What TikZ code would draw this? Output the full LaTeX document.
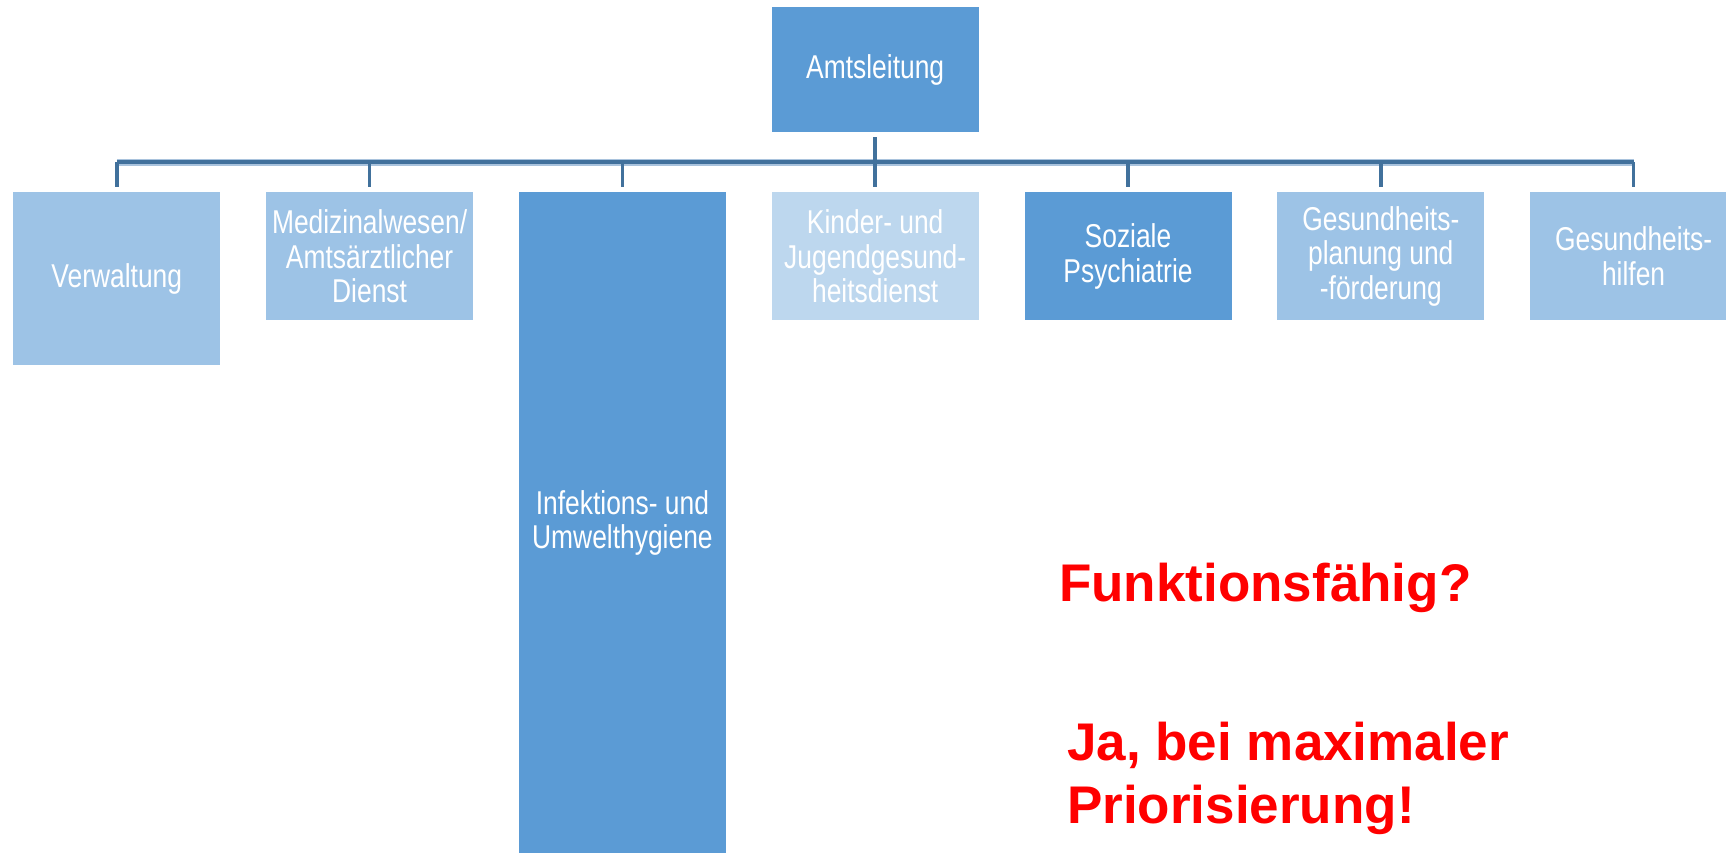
\documentclass[tikz,border=0pt]{standalone}
\usepackage{fontspec}
\setmainfont{Liberation Sans}
\newfontfamily\boxfont[FakeStretch=0.8]{Liberation Sans}
\usetikzlibrary{calc}
\definecolor{midblue}{HTML}{5B9BD5}
\definecolor{lightblue}{HTML}{9DC3E6}
\definecolor{paleblue}{HTML}{BDD7EE}
\definecolor{linecol}{HTML}{41719C}
\definecolor{halocol}{HTML}{A9C3DD}
\definecolor{alertred}{HTML}{FF0000}
\begin{document}
\begin{tikzpicture}[x=1pt,y=-1pt,
  unit/.style={rectangle, inner sep=0pt, minimum width=207pt, fill=#1,
    text=white, align=center, font=\boxfont\fontsize{33}{34.3}\selectfont},
  drop/.style={draw=linecol, line width=3.6pt},
  bushalo/.style={draw=halocol, line width=7pt},
  busline/.style={draw=linecol, line width=4pt},
  alert/.style={inner sep=0pt, anchor=base west, text=alertred, align=left,
    font=\bfseries\fontsize{53}{63.3}\selectfont}
]
\useasboundingbox (0,0) rectangle (1726,853);
\fill[white] (0,0) rectangle (1726,853);

\node[unit=midblue, minimum height=125pt, anchor=north] (amt) at (875.2,7) {Amtsleitung};

\node[unit=lightblue, minimum height=172.7pt, anchor=north] (verw) at (116.8,192.3) {Verwaltung};
\node[unit=lightblue, minimum height=127.7pt, anchor=north] (med) at (369.6,192.3) {Medizinalwesen/\\Amtsärztlicher\\Dienst};
\node[unit=midblue, minimum height=660.7pt, anchor=north] (inf) at (622.4,192.3) {Infektions- und\\Umwelthygiene};
\node[unit=paleblue, minimum height=127.7pt, anchor=north] (kjgd) at (875.2,192.3) {Kinder- und\\Jugendgesund-\\heitsdienst};
\node[unit=midblue, minimum height=127.7pt, anchor=north] (sp) at (1128,192.3) {Soziale\\Psychiatrie};
\node[unit=lightblue, minimum height=127.7pt, anchor=north] (plan) at (1380.8,192.3) {Gesundheits-\\planung und\\-förderung};
\node[unit=lightblue, minimum height=127.7pt, anchor=north] (hilfen) at (1633.6,192.3) {Gesundheits-\\hilfen};

\coordinate (bus) at (0,162.5);
\draw[bushalo] (verw.north |- bus) -- (hilfen.north |- bus);
\draw[busline] (verw.north |- bus) -- (hilfen.north |- bus);
\foreach \n in {verw,med,inf,kjgd,sp,plan,hilfen}
  \draw[drop, shorten >=5.5pt] (\n.north |- bus) -- (\n.north);
\draw[drop, shorten <=5pt, shorten >=5.5pt] (amt.south) -- (kjgd.north);

\node[alert] (q) at (1059,601.7) {Funktionsfähig?};
\node[alert] (a) at (1067,823.3) {Ja, bei maximaler\\Priorisierung!};
\end{tikzpicture}
\end{document}
